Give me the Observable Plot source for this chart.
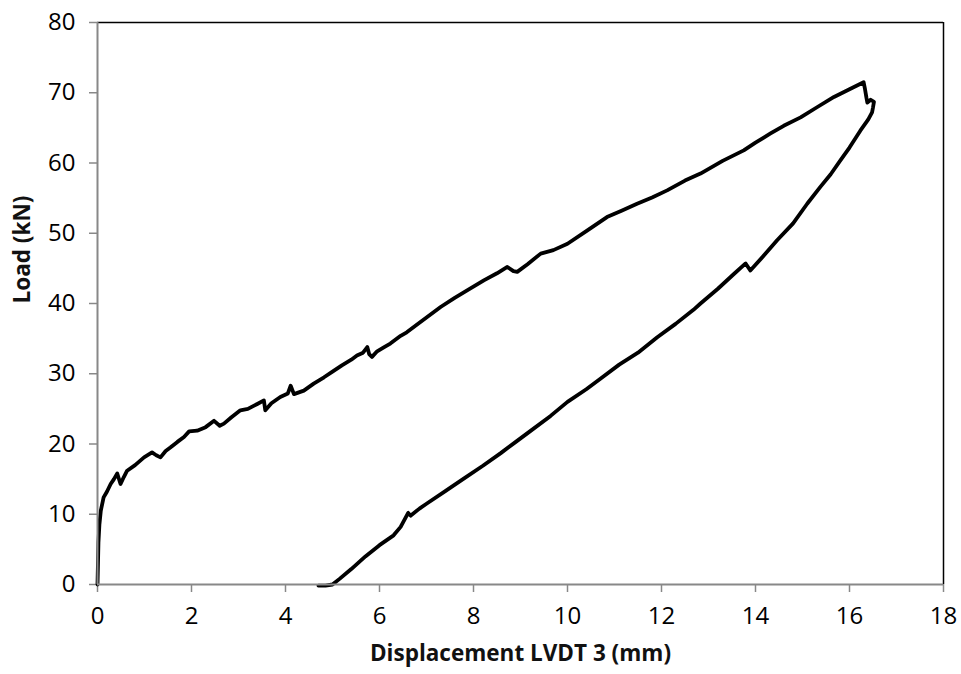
<!DOCTYPE html>
<html>
<head>
<meta charset="utf-8">
<script src="https://cdn.jsdelivr.net/npm/d3@7"></script>
<script src="https://cdn.jsdelivr.net/npm/@observablehq/plot@0.6"></script>
<style>
  html, body { margin: 0; padding: 0; background: #fff; }
</style>
</head>
<body>
<div id="chart"></div>
<script>
// Displacement (mm) along the test, loading then unloading
const displacement = [
  0, 0.01, 0.02, 0.04, 0.07, 0.13, 0.2, 0.28, 0.35, 0.42, 0.49, 0.56, 0.63, 0.8, 0.99,
  1.16, 1.25, 1.34, 1.45, 1.55, 1.7, 1.84, 1.95, 2.12, 2.3, 2.48, 2.6, 2.69, 2.85, 3.04,
  3.2, 3.4, 3.54, 3.57, 3.7, 3.89, 4.05, 4.11, 4.18, 4.39, 4.6, 4.82, 5.0, 5.2, 5.4,
  5.52, 5.65, 5.74, 5.78, 5.84, 5.95, 6.1, 6.23, 6.45, 6.58, 6.8, 7.0, 7.3, 7.6, 7.9,
  8.22, 8.5, 8.72, 8.85, 8.93, 9.15, 9.43, 9.7, 10.0, 10.4, 10.84, 11.15, 11.48, 11.8, 12.12,
  12.5, 12.83, 13.3, 13.75, 14.0, 14.32, 14.6, 14.96, 15.3, 15.67, 16.0, 16.3, 16.33, 16.36, 16.38,
  16.45, 16.52, 16.5, 16.48,
  16.4, 16.23, 16.0, 15.81, 15.6, 15.38, 15.1, 14.8, 14.46, 14.2, 13.89, 13.79, 13.54, 13.2, 12.83,
  12.68, 12.3, 11.91, 11.5, 11.1, 10.7, 10.4, 10.0, 9.64, 9.2, 8.9, 8.58, 8.2, 7.8, 7.4,
  7.0, 6.85, 6.66, 6.61, 6.45, 6.3, 6.0, 5.7, 5.4, 5.15, 5.0, 4.85, 4.7
];
// Load (kN)
const load = [
  0, 3, 6, 8.5, 10.5, 12.4, 13.2, 14.3, 15.0, 15.8, 14.3, 15.3, 16.2, 17.0, 18.1,
  18.8, 18.4, 18.1, 19.0, 19.5, 20.3, 21.0, 21.8, 21.9, 22.4, 23.3, 22.6, 22.9, 23.8, 24.8,
  25.0, 25.7, 26.2, 24.8, 25.8, 26.7, 27.2, 28.3, 27.1, 27.6, 28.6, 29.5, 30.3, 31.2, 32.0,
  32.6, 33.0, 33.8, 32.8, 32.4, 33.2, 33.8, 34.3, 35.4, 35.9, 37.0, 38.0, 39.5, 40.8, 42.0,
  43.3, 44.3, 45.2, 44.6, 44.5, 45.6, 47.1, 47.6, 48.5, 50.3, 52.3, 53.2, 54.2, 55.1, 56.1,
  57.5, 58.5, 60.3, 61.8, 62.9, 64.2, 65.3, 66.5, 67.9, 69.4, 70.5, 71.5, 70.5, 69.3, 68.6,
  69.0, 68.7, 67.9, 67.2,
  66.2, 64.6, 62.2, 60.4, 58.4, 56.6, 54.2, 51.4, 49.0, 47.0, 44.7, 45.7, 44.2, 42.1, 40.0,
  39.1, 37.1, 35.2, 33.0, 31.3, 29.3, 27.8, 26.0, 24.0, 21.8, 20.3, 18.7, 16.9, 15.1, 13.3,
  11.5, 10.8, 9.8, 10.2, 8.2, 7.0, 5.6, 4.0, 2.2, 0.8, 0, -0.15, -0.15
];
const xTicks = [0, 2, 4, 6, 8, 10, 12, 14, 16, 18];
const yTicks = [0, 10, 20, 30, 40, 50, 60, 70, 80];
const xTitle = "Displacement LVDT 3 (mm)";
const yTitle = "Load (kN)";

const curve = displacement.map((d, i) => ({x: d, y: load[i]}));
const xDomain = [xTicks[0], xTicks[xTicks.length - 1]];
const yDomain = [yTicks[0], yTicks[yTicks.length - 1]];

const chart = Plot.plot({
  width: 961,
  height: 674,
  marginLeft: 97,
  marginRight: 18,
  marginTop: 22,
  marginBottom: 90,
  style: {fontFamily: "'Open Sans', sans-serif", fontSize: "24px", color: "#000", background: "#fff"},
  x: {domain: xDomain},
  y: {domain: yDomain},
  marks: [
    Plot.ruleY([yDomain[1]], {stroke: "#000", strokeWidth: 1.5}),
    Plot.ruleX([xDomain[1]], {stroke: "#000", strokeWidth: 1.5}),
    Plot.axisX(xTicks, {tickSize: 8, tickPadding: 14, stroke: "#888", strokeWidth: 1.5, fill: "#000", fontSize: 24, label: null}),
    Plot.axisY(yTicks, {tickSize: 8, tickPadding: 14, stroke: "#888", strokeWidth: 1.5, fill: "#000", fontSize: 24, label: null}),
    Plot.line(curve, {x: "x", y: "y", stroke: "#000", strokeWidth: 3.8, strokeLinejoin: "round", strokeLinecap: "round", clip: false}),
    Plot.ruleY([yDomain[0]], {stroke: "#888", strokeWidth: 2}),
    Plot.ruleX([xDomain[0]], {stroke: "#888", strokeWidth: 2}),
    Plot.text([xTitle], {frameAnchor: "bottom", dy: 76, fontWeight: "bold", fontSize: 22.5, fontFamily: "'Open Sans', sans-serif", fill: "#111"}),
    Plot.text([yTitle], {frameAnchor: "left", dx: -75, rotate: -90, fontWeight: "bold", fontSize: 22.5, fontFamily: "'Open Sans', sans-serif", fill: "#111"})
  ]
});
document.getElementById("chart").appendChild(chart);
</script>
</body>
</html>
